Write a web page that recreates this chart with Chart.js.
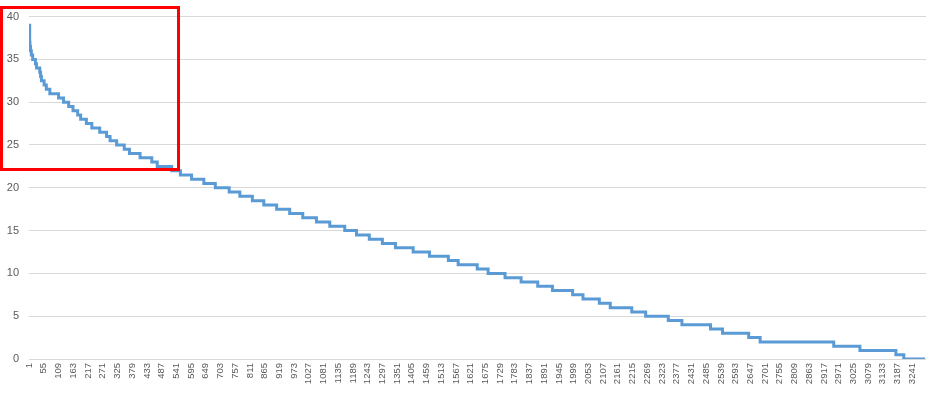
<!DOCTYPE html>
<html>
<head>
<meta charset="utf-8">
<script src="https://cdn.jsdelivr.net/npm/chart.js@4.4.0/dist/chart.umd.min.js"></script>
<style>
    html, body { margin: 0; padding: 0; background: #ffffff; }
    #wrap { position: relative; width: 936px; height: 397px; }
    #highlight {
        position: absolute; left: 0; top: 6px; width: 180px; height: 165px;
        border: 3px solid #ff0000; box-sizing: border-box; pointer-events: none;
    }
</style>
</head>
<body>
<div id="wrap">
    <canvas id="chart" width="936" height="397"></canvas>
    <div id="highlight"></div>
</div>
<script>
// Step levels: index where each level starts, and its value
const stepStart = [
    1, 3, 4, 6, 9, 14, 24, 28, 40, 43, 46, 56, 64, 77,
    109, 127, 146, 162, 179, 190, 211, 231, 260, 285, 298, 322, 350, 369,
    408, 451, 471, 524, 556, 597, 642, 684, 735, 774, 820, 862, 909, 957,
    1005, 1055, 1104, 1159, 1202, 1249, 1297, 1345, 1410, 1470, 1539, 1575,
    1645, 1685, 1747, 1806, 1867, 1921, 1995, 2033, 2093, 2133, 2212, 2263,
    2346, 2396, 2501, 2545, 2641, 2683, 2953, 3049, 3181, 3210, 3288
];
const stepLevel = [
    39, 37, 36.5, 36, 35.5, 35, 34.5, 34, 33.5, 33, 32.5, 32, 31.5, 31,
    30.5, 30, 29.5, 29, 28.5, 28, 27.5, 27, 26.5, 26, 25.5, 25, 24.5, 24,
    23.5, 23, 22.5, 22, 21.5, 21, 20.5, 20, 19.5, 19, 18.5, 18, 17.5, 17,
    16.5, 16, 15.5, 15, 14.5, 14, 13.5, 13, 12.5, 12, 11.5, 11,
    10.5, 10, 9.5, 9, 8.5, 8, 7.5, 7, 6.5, 6, 5.5, 5,
    4.5, 4, 3.5, 3, 2.5, 2, 1.5, 1, 0.5, 0, 0
];
const xTickLabels = [
    1, 55, 109, 163, 217, 271, 325, 379, 433, 487, 541, 595, 649, 703, 757,
    811, 865, 919, 973, 1027, 1081, 1135, 1189, 1243, 1297, 1351, 1405, 1459,
    1513, 1567, 1621, 1675, 1729, 1783, 1837, 1891, 1945, 1999, 2053, 2107,
    2161, 2215, 2269, 2323, 2377, 2431, 2485, 2539, 2593, 2647, 2701, 2755,
    2809, 2863, 2917, 2971, 3025, 3079, 3133, 3187, 3241
];
const pointCount = 3291;

const points = stepStart.map((x, i) => ({ x: x, y: stepLevel[i] }));

new Chart(document.getElementById('chart').getContext('2d'), {
    type: 'line',
    data: {
        datasets: [{
            data: points,
            borderColor: '#5b9bd5',
            borderWidth: 3,
            pointRadius: 0,
            stepped: 'before',   // level holds until the next start index
            fill: false
        }]
    },
    options: {
        responsive: false,
        animation: false,
        layout: { padding: { top: 15, right: 10, left: 0, bottom: 0 } },
        plugins: { legend: { display: false }, tooltip: { enabled: false } },
        scales: {
            x: {
                type: 'linear',
                min: 0.5,
                max: pointCount + 0.5,
                afterBuildTicks: scale => { scale.ticks = xTickLabels.map(v => ({ value: v })); },
                afterFit: scale => { scale.height = 38; },
                grid: { display: false, drawTicks: false },
                border: { display: false },
                ticks: {
                    autoSkip: false,
                    minRotation: 90,
                    maxRotation: 90,
                    padding: 4,
                    color: '#595959',
                    font: { family: 'Liberation Sans', size: 9.5 },
                    callback: v => String(v)
                }
            },
            y: {
                min: 0,
                max: 40,
                afterFit: scale => { scale.width = 29; },
                grid: { color: '#d9d9d9', lineWidth: 1, drawTicks: false },
                border: { display: false },
                ticks: {
                    stepSize: 5,
                    padding: 10,
                    color: '#595959',
                    font: { family: 'Liberation Sans', size: 11 }
                }
            }
        }
    }
});
</script>
</body>
</html>
